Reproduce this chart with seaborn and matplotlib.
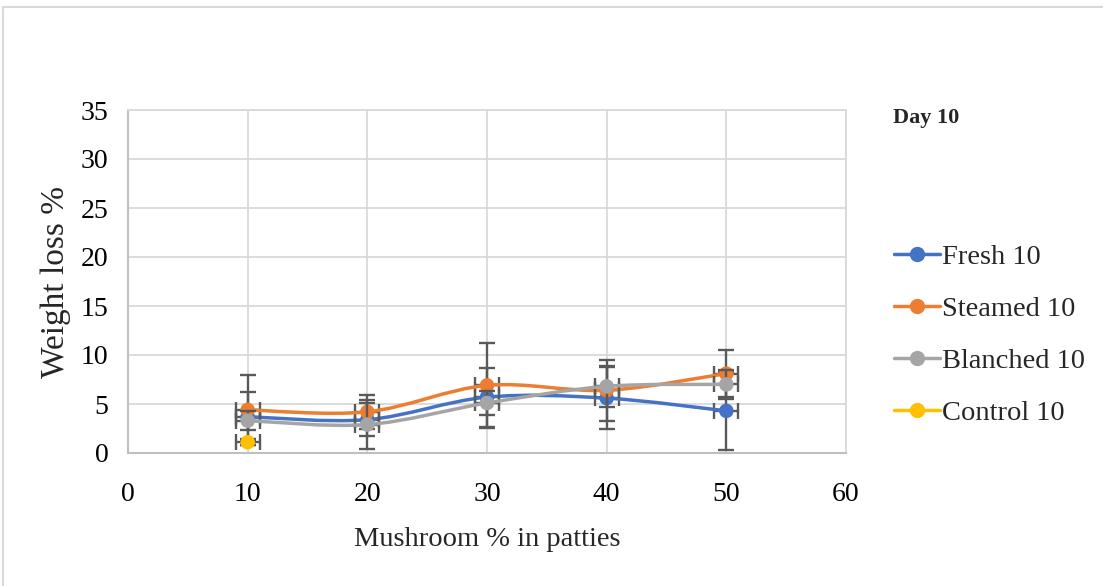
import matplotlib
matplotlib.use("Agg")
import matplotlib.pyplot as plt
from matplotlib.path import Path
from matplotlib.patches import PathPatch
from matplotlib.lines import Line2D
import numpy as np
import pandas as pd
import seaborn as sns

# Mushroom content in the patties (%)
mushroom_pct = [10, 20, 30, 40, 50]

# Weight loss (%) on day 10 for each treatment
fresh = [3.7, 3.4, 5.7, 5.6, 4.3]
steamed = [4.4, 4.2, 6.9, 6.4, 8.1]
blanched = [3.3, 2.9, 5.1, 6.8, 7.0]
control_pct = [10]
control = [1.1]

# Error bar half-widths
fresh_err = [2.5, 1.7, 3.0, 3.2, 4.0]
steamed_err = [3.6, 1.7, 4.3, 3.1, 2.4]
blanched_err = [1.0, 2.5, 1.2, 2.1, 1.5]
control_err = [0.3]
pct_err = 1.0

series_names = ["Fresh 10", "Steamed 10", "Blanched 10", "Control 10"]
colors = ["#4472C4", "#ED7D31", "#A5A5A5", "#FFC000"]

x_ticks = [0, 10, 20, 30, 40, 50, 60]
y_ticks = [0, 5, 10, 15, 20, 25, 30, 35]

sns.set_style("white")
plt.rcParams["font.family"] = ["Liberation Serif", "DejaVu Serif"]

fig = plt.figure(figsize=(11.03, 5.86), dpi=100)
ax = fig.add_axes([128 / 1103, 1 - 453 / 586, (846 - 128) / 1103, (453 - 110) / 586])

series = [
    (mushroom_pct, fresh, fresh_err),
    (mushroom_pct, steamed, steamed_err),
    (mushroom_pct, blanched, blanched_err),
    (control_pct, control, control_err),
]


def smooth_path(xs, ys):
    """Cubic Bezier path through the points (Catmull-Rom style smoothing)."""
    pts = np.column_stack([xs, ys]).astype(float)
    n = len(pts)
    verts = [pts[0]]
    codes = [Path.MOVETO]
    for i in range(n - 1):
        p0 = pts[i - 1] if i > 0 else pts[i]
        p1 = pts[i]
        p2 = pts[i + 1]
        p3 = pts[i + 2] if i + 2 < n else pts[i + 1]
        c1 = p1 + (p2 - p0) / 6.0
        c2 = p2 - (p3 - p1) / 6.0
        verts += [c1, c2, p2]
        codes += [Path.CURVE4] * 3
    return Path(verts, codes)


rows = []
for k, ((xs, ys, errs), name, col) in enumerate(zip(series, series_names, colors)):
    ax.errorbar(xs, ys, yerr=errs, xerr=pct_err, fmt="none", ecolor="#595959",
                elinewidth=1.7, capsize=5.5, capthick=1.7, zorder=3 + 3 * k)
    if len(xs) > 1:
        ax.add_patch(PathPatch(smooth_path(xs, ys), facecolor="none", edgecolor=col,
                               lw=2.5, zorder=4 + 3 * k, capstyle="round"))
    for xv, yv in zip(xs, ys):
        rows.append({"pct": xv, "loss": yv, "series": name})

df = pd.DataFrame(rows)
for k, (name, col) in enumerate(zip(series_names, colors)):
    sub = df[df["series"] == name]
    sns.scatterplot(data=sub, x="pct", y="loss", color=col, s=110, edgecolor="none",
                    ax=ax, legend=False, zorder=5 + 3 * k)

ax.set_xlim(0, 60)
ax.set_ylim(0, 35)
ax.set_xticks(x_ticks)
ax.set_yticks(y_ticks)
ax.grid(True, color="#D9D9D9", lw=1.3)
ax.set_axisbelow(True)
for side in ["top", "right"]:
    ax.spines[side].set_color("#D9D9D9")
    ax.spines[side].set_linewidth(1.3)
for side in ["left", "bottom"]:
    ax.spines[side].set_color("#BFBFBF")
    ax.spines[side].set_linewidth(1.5)
ax.tick_params(axis="both", length=0, labelsize=20, colors="black")
ax.tick_params(axis="y", pad=14)
ax.tick_params(axis="x", pad=21)
ax.set_xlabel("Mushroom % in patties", fontsize=20.5, labelpad=14)
ax.set_ylabel("Weight loss %", fontsize=24, labelpad=7)

handles = [Line2D([0], [0], color=c, lw=2.5, marker="o", markersize=10) for c in colors]
fig.legend(handles, series_names, loc="center left",
           bbox_to_anchor=(894 / 1103, 1 - 335 / 586), frameon=False,
           fontsize=20.5, handlelength=1.6, handletextpad=0.1, labelspacing=0.92,
           borderpad=0, borderaxespad=0)

fig.text(893 / 1103, 1 - 118 / 586, "Day 10", fontsize=16, fontweight="bold",
         ha="left", va="center")

# Outer chart frame edges
fig.add_artist(Line2D([3 / 1103, 1], [1 - 7 / 586, 1 - 7 / 586], color="#D9D9D9", lw=1.5))
fig.add_artist(Line2D([3 / 1103, 3 / 1103], [0, 1 - 7 / 586], color="#D9D9D9", lw=1.5))

fig.savefig("out.png", dpi=100)
